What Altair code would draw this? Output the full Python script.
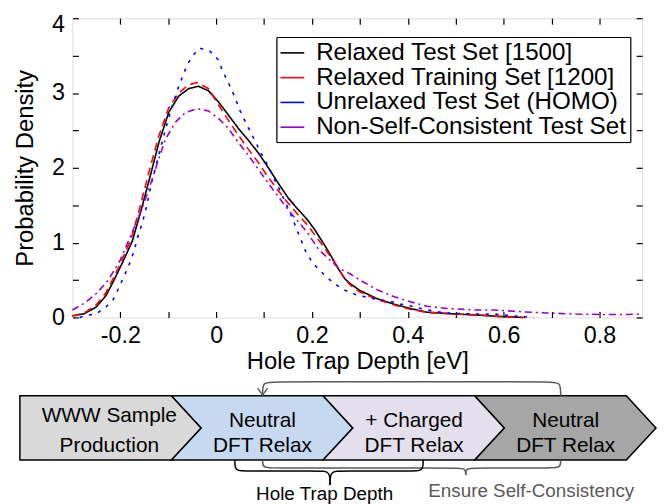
import altair as alt
import pandas as pd

FONT = "Liberation Sans"

# ---------------- data ----------------
series_names = ["Relaxed Test Set [1500]", "Relaxed Training Set [1200]",
                "Unrelaxed Test Set (HOMO)", "Non-Self-Consistent Test Set"]
series_colors = ["#000000", "#ff0000", "#0000ff", "#9400d3"]

black_x = [-0.30, -0.275, -0.25, -0.23, -0.213, -0.195, -0.175, -0.158, -0.138, -0.119, -0.099, -0.078,
           -0.057, -0.037, -0.016, 0.005, 0.025, 0.046, 0.067, 0.088, 0.108, 0.129, 0.15, 0.17, 0.19,
           0.205, 0.225, 0.24, 0.253, 0.268, 0.28, 0.30, 0.336, 0.37, 0.405, 0.44, 0.50, 0.55, 0.60, 0.64]
black_y = [0.02, 0.05, 0.14, 0.29, 0.50, 0.74, 1.02, 1.40, 1.88, 2.35, 2.74, 2.96,
           3.06, 3.09, 3.03, 2.88, 2.71, 2.53, 2.37, 2.20, 2.01, 1.80, 1.60, 1.45, 1.31,
           1.18, 0.98, 0.82, 0.67, 0.52, 0.45, 0.36, 0.25, 0.18, 0.12, 0.07, 0.046, 0.03, 0.01, 0.0]

red_x = [-0.30, -0.275, -0.25, -0.23, -0.215, -0.20, -0.178, -0.16, -0.14, -0.12, -0.099, -0.078,
         -0.057, -0.04, -0.016, 0.005, 0.025, 0.046, 0.067, 0.088, 0.108, 0.129, 0.15, 0.17, 0.19,
         0.205, 0.225, 0.24, 0.253, 0.268, 0.28, 0.30, 0.336, 0.37, 0.405, 0.44, 0.50, 0.55, 0.60, 0.645]
red_y = [0.02, 0.06, 0.17, 0.33, 0.52, 0.72, 1.04, 1.45, 1.95, 2.42, 2.80, 3.00,
         3.11, 3.14, 3.06, 2.84, 2.64, 2.44, 2.25, 2.07, 1.88, 1.70, 1.53, 1.38, 1.24,
         1.11, 0.94, 0.80, 0.68, 0.52, 0.43, 0.34, 0.24, 0.17, 0.11, 0.066, 0.045, 0.03, 0.01, 0.0]

blue_x = [-0.285, -0.275, -0.25, -0.23, -0.215, -0.205, -0.195, -0.186, -0.177, -0.17, -0.164, -0.157,
          -0.15, -0.145, -0.14, -0.135, -0.129, -0.117, -0.106, -0.093, -0.078, -0.061, -0.05, -0.035,
          -0.013, 0.005, 0.012, 0.022, 0.032, 0.041, 0.05, 0.06, 0.07, 0.081, 0.091, 0.102, 0.112,
          0.122, 0.133, 0.143, 0.153, 0.162, 0.170, 0.187, 0.20, 0.2145, 0.232, 0.249, 0.27, 0.294,
          0.315, 0.335, 0.36, 0.384, 0.405, 0.43, 0.454, 0.476, 0.50, 0.525, 0.55, 0.57, 0.594,
          0.617, 0.64, 0.663]
blue_y = [0.0, 0.02, 0.05, 0.14, 0.24, 0.37, 0.51, 0.64, 0.78, 0.92, 1.07, 1.21,
          1.36, 1.49, 1.64, 1.79, 1.94, 2.24, 2.51, 2.80, 3.09, 3.37, 3.49, 3.60,
          3.56, 3.44, 3.32, 3.18, 3.05, 2.91, 2.76, 2.63, 2.50, 2.36, 2.23, 2.10, 1.98,
          1.84, 1.70, 1.56, 1.42, 1.28, 1.15, 0.88, 0.74, 0.64, 0.53, 0.44, 0.36, 0.30,
          0.27, 0.24, 0.22, 0.18, 0.155, 0.115, 0.085, 0.062, 0.053, 0.05, 0.045, 0.044, 0.04,
          0.022, 0.009, 0.0]

purple_x = [-0.30, -0.275, -0.25, -0.225, -0.20, -0.175, -0.152, -0.135, -0.126, -0.106, -0.085,
            -0.064, -0.04, -0.016, 0.005, 0.025, 0.046, 0.067, 0.088, 0.108, 0.129, 0.15, 0.17,
            0.19, 0.20, 0.215, 0.232, 0.256, 0.28, 0.30, 0.336, 0.37, 0.405, 0.44, 0.48, 0.54,
            0.58, 0.64, 0.69, 0.75, 0.80, 0.86, 0.888]
purple_y = [0.10, 0.19, 0.32, 0.50, 0.77, 1.14, 1.50, 1.82, 2.00, 2.38, 2.61,
            2.74, 2.79, 2.76, 2.66, 2.53, 2.34, 2.17, 1.98, 1.80, 1.62, 1.44, 1.29,
            1.14, 1.04, 0.90, 0.80, 0.66, 0.58, 0.50, 0.37, 0.28, 0.21, 0.15, 0.12, 0.10,
            0.10, 0.075, 0.06, 0.045, 0.04, 0.04, 0.045]

x_label_values = [-0.2, 0, 0.2, 0.4, 0.6, 0.8]
x_tick_values = [-0.2, -0.1, 0, 0.1, 0.2, 0.3, 0.4, 0.5, 0.6, 0.7, 0.8]
y_label_values = [0, 1, 2, 3, 4]
y_tick_values = [0, 0.5, 1, 1.5, 2, 2.5, 3, 3.5, 4]

# diagram (stage units along x, chevron-height units along y)
stage_top = ["WWW Sample", "Neutral", "+ Charged", "Neutral"]
stage_bottom = ["Production", "DFT Relax", "DFT Relax", "DFT Relax"]
stage_colors = ["#d9d9d9", "#c6d9f0", "#e4dfec", "#a6a6a6"]
tip_depth = 0.196

# ---------------- layout ----------------
W, H = 575, 302
X_DOMAIN = [-0.3, 0.889]
Y_DOMAIN = [0, 4]
xscale = alt.Scale(domain=X_DOMAIN, nice=False, zero=False)
yscale = alt.Scale(domain=Y_DOMAIN, nice=False, zero=False)
dxscale = alt.Scale(domain=[0, 4], range=[-53, 559], nice=False, zero=False)
dyscale = alt.Scale(domain=[0, 1], range=[381, 446], nice=False, zero=False)

rows = []
for name, xs, ys in zip(series_names, [black_x, red_x, blue_x, purple_x],
                        [black_y, red_y, blue_y, purple_y]):
    for i, (xv, yv) in enumerate(zip(xs, ys)):
        rows.append({"series": name, "x": xv, "y": yv, "i": i})
df = pd.DataFrame(rows)

label_expr = "replace(format(datum.value, '~g'), '\u2212', '-')"

legend = alt.Legend(orient="none", legendX=206, legendY=19, title=None,
                    symbolType="stroke", symbolSize=576, symbolStrokeWidth=1.6,
                    labelFontSize=24.4, labelFont=FONT, labelColor="black", labelLimit=500,
                    labelOffset=11, padding=3, rowPadding=0, strokeColor="black",
                    fillColor="white", cornerRadius=0)

lines = alt.Chart(df).mark_line().encode(
    x=alt.X("x:Q", scale=xscale,
            axis=alt.Axis(values=x_label_values, labelExpr=label_expr, ticks=False,
                          domain=False, grid=False, labelFontSize=23.5, labelFont=FONT,
                          labelColor="black", labelPadding=6,
                          title="Hole Trap Depth [eV]", titleFontSize=24, titleFont=FONT,
                          titleFontWeight="normal", titleColor="black", titlePadding=3)),
    y=alt.Y("y:Q", scale=yscale,
            axis=alt.Axis(values=y_label_values, ticks=False, domain=False, grid=False,
                          labelFontSize=23.5, labelFont=FONT, labelColor="black",
                          labelPadding=8,
                          labelOffset={"condition": {"test": "datum.value == 4", "value": 6},
                                       "value": 0},
                          title="Probability Density", titleFontSize=24,
                          titleFont=FONT, titleFontWeight="normal", titleColor="black",
                          titlePadding=14)),
    color=alt.Color("series:N", sort=series_names,
                    scale=alt.Scale(domain=series_names, range=series_colors), legend=legend),
    strokeDash=alt.StrokeDash("series:N", sort=series_names,
                              scale=alt.Scale(domain=series_names,
                                              range=[[1, 0], [8, 5], [3.2, 6.5], [7, 4, 2, 4]]),
                              legend=legend),
    strokeWidth=alt.StrokeWidth("series:N", sort=series_names,
                                scale=alt.Scale(domain=series_names, range=[1.6, 1.6, 3.2, 1.6]),
                                legend=legend),
    order="i:Q",
)

tick_df = pd.DataFrame({"x": X_DOMAIN, "y": Y_DOMAIN})
tick_common = dict(labels=False, domain=False, grid=False, ticks=True, tickSize=6,
                   tickWidth=1.2, tickColor="black")

ticks_a = alt.Chart(tick_df).mark_point(opacity=0).encode(
    x=alt.X("x:Q", scale=xscale, title=None,
            axis=alt.Axis(orient="top", offset=-H, values=x_tick_values, **tick_common)),
    y=alt.Y("y:Q", scale=yscale, title=None,
            axis=alt.Axis(orient="right", offset=-W, values=y_tick_values, **tick_common)),
)
ticks_b = alt.Chart(tick_df).mark_point(opacity=0).encode(
    x=alt.X("x:Q", scale=xscale, title=None,
            axis=alt.Axis(orient="bottom", offset=-H, values=x_tick_values, **tick_common)),
    y=alt.Y("y:Q", scale=yscale, title=None,
            axis=alt.Axis(orient="left", offset=-W, values=y_tick_values, **tick_common)),
)

# chevrons
chev_layers = []
for k in range(4):
    pts = []
    for yy, off in [(0.0, 0.0), (0.5, tip_depth), (1.0, 0.0)]:
        xl = k + (off if k > 0 else 0.0)
        xr = k + 1 + off
        pts.append({"yy": yy, "xl": xl, "xr": xr})
    chev_layers.append(
        alt.Chart(pd.DataFrame(pts)).mark_area(
            orient="horizontal", fill=stage_colors[k], stroke="black", strokeWidth=1.5,
            strokeJoin="miter", opacity=1
        ).encode(
            y=alt.Y("yy:Q", scale=dyscale, axis=None),
            x=alt.X("xl:Q", scale=dxscale, axis=None),
            x2="xr:Q",
        )
    )

text_rows = []
for k in range(4):
    xc = 0.59 + k if k == 0 else 0.6 + k
    text_rows.append({"tx": xc, "ty": 0.41 if k == 0 else 0.48, "label": stage_top[k]})
    text_rows.append({"tx": xc, "ty": 0.87, "label": stage_bottom[k]})
stage_text = alt.Chart(pd.DataFrame(text_rows)).mark_text(
    fontSize=21, font=FONT, color="black", baseline="alphabetic", align="center"
).encode(
    x=alt.X("tx:Q", scale=dxscale, axis=None),
    y=alt.Y("ty:Q", scale=dyscale, axis=None),
    text="label:N",
)

def brace(x0, xm, x1, y0, yh, yt, r=0.07):
    left = [(x0, y0), (x0, yh), (x0 + r, yh), (xm - r, yh), (xm, yh), (xm, yt)]
    right = [(x1, y0), (x1, yh), (x1 - r, yh), (xm + r, yh), (xm, yh), (xm, yt)]
    return left, right

def path_df(parts):
    out = []
    for p, pts in enumerate(parts):
        for i, (a, b) in enumerate(pts):
            out.append({"part": p, "i": i, "px": a, "py": b})
    return pd.DataFrame(out)

def path_layer(parts, color):
    return alt.Chart(path_df(parts)).mark_line(
        interpolate="basis", strokeWidth=1.5, color=color
    ).encode(
        x=alt.X("px:Q", scale=dxscale, axis=None),
        y=alt.Y("py:Q", scale=dyscale, axis=None),
        detail="part:N",
        order="i:Q",
    )

gray = "#595959"
gray_brace = path_layer(list(brace(1.601, 2.941, 3.567, 1.0, 1.123, 1.23)), gray)
black_brace = path_layer(list(brace(1.418, 2.046, 2.660, 1.0, 1.17, 1.385)), "black")
feedback = path_layer([[(3.567, 0.0), (3.567, -0.215), (3.50, -0.215), (1.67, -0.215),
                        (1.601, -0.215), (1.601, -0.01)]], gray)
arrow_head = alt.Chart(pd.DataFrame({"px": [1.601], "py": [-0.01]})).mark_point(
    shape="M-1,-1.4L0,0L1,-1.4", filled=False, size=100, strokeWidth=1.5, color=gray, opacity=1
).encode(
    x=alt.X("px:Q", scale=dxscale, axis=None),
    y=alt.Y("py:Q", scale=dyscale, axis=None),
)

brace_text = alt.Chart(pd.DataFrame({
    "tx": [2.01, 3.373], "ty": [1.52, 1.48],
    "label": ["Hole Trap Depth", "Ensure Self-Consistency"],
    "c": ["black", gray]})).mark_text(
    fontSize=19, font=FONT, baseline="middle", align="center"
).encode(
    x=alt.X("tx:Q", scale=dxscale, axis=None),
    y=alt.Y("ty:Q", scale=dyscale, axis=None),
    text="label:N",
    color=alt.Color("c:N", scale=None),
)

chart = alt.layer(
    ticks_a, ticks_b, lines, *chev_layers, stage_text, gray_brace, black_brace, feedback,
    arrow_head, brace_text
).resolve_scale(
    x="independent", y="independent", color="independent"
).properties(
    width=W, height=H,
    autosize=alt.AutoSizeParams(type="none"),
    padding={"left": 65, "top": 8, "right": 15, "bottom": 186},
).configure_view(
    stroke="black", strokeWidth=1.4
).configure(
    font=FONT
)

chart.save("out.html", embed_options={"renderer": "svg", "actions": False})
